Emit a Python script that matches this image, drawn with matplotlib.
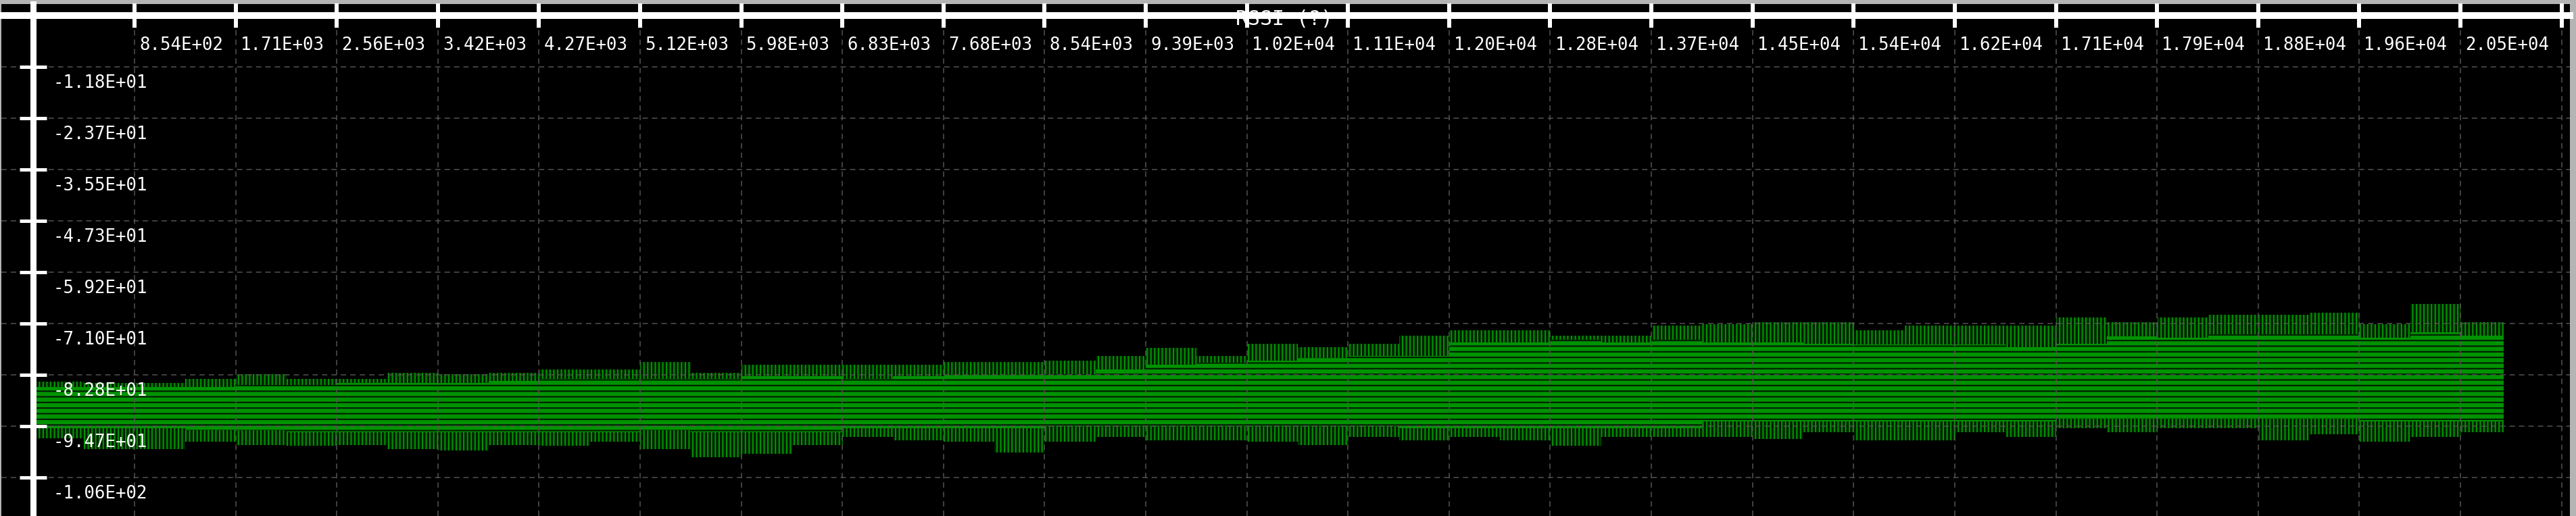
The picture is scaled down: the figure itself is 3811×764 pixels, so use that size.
import numpy as np
import matplotlib
matplotlib.use("Agg")
import matplotlib.pyplot as plt
from matplotlib.transforms import offset_copy

# ---------------- data ----------------
# RSSI sample cloud summarised per half-tick bin of sample index
bin_edges = [0, 427, 854, 1281, 1708, 2135, 2562, 2989, 3416, 3843, 4270, 4697,
             5124, 5551, 5978, 6405, 6832, 7259, 7686, 8113, 8540, 8967, 9394,
             9821, 10248, 10675, 11102, 11529, 11956, 12383, 12810, 13237, 13664,
             14091, 14518, 14945, 15372, 15799, 16226, 16653, 17080, 17507, 17934,
             18361, 18788, 19215, 19642, 20069, 20496, 20856]
# highest sparse samples per bin
rssi_max = [-84.4, -84.7, -84.7, -83.7, -82.6, -83.7, -83.7, -82.4, -82.6, -82.4,
            -81.6, -81.6, -79.8, -82.4, -80.5, -80.5, -80.5, -80.5, -79.8, -79.8,
            -79.5, -78.5, -76.6, -78.5, -75.6, -76.4, -75.6, -73.8, -72.5, -72.5,
            -73.8, -73.8, -71.5, -71.2, -70.7, -70.7, -72.5, -71.5, -71.5, -71.5,
            -69.6, -70.7, -69.6, -68.9, -68.9, -68.5, -71.2, -66.5, -70.7]
# top of the dense band per bin
rssi_dense_hi = [-85.7, -85.7, -85.7, -85.7, -85.2, -85.2, -84.7, -84.7, -84.7, -84.2,
                 -83.7, -83.7, -83.7, -83.7, -83.1, -83.1, -83.7, -83.1, -82.9, -82.9,
                 -82.6, -81.6, -80.5, -80.0, -79.5, -79.0, -78.5, -78.5, -75.4, -75.4,
                 -74.8, -75.4, -74.8, -75.4, -75.4, -75.6, -75.9, -75.9, -75.9, -76.4,
                 -75.6, -74.0, -74.3, -73.5, -73.5, -73.5, -74.3, -73.0, -73.8]
# bottom of the dense band per bin
rssi_dense_lo = [-95.1, -95.1, -95.1, -95.6, -95.6, -96.1, -96.1, -96.1, -96.1, -96.1,
                 -96.1, -96.1, -95.6, -96.1, -96.1, -96.1, -95.1, -95.1, -95.1, -95.1,
                 -94.6, -94.6, -94.6, -94.6, -94.6, -94.6, -94.6, -95.1, -95.1, -95.1,
                 -95.1, -95.1, -95.1, -93.5, -93.5, -93.5, -93.5, -93.5, -93.5, -93.5,
                 -93.0, -93.0, -93.0, -93.0, -93.0, -93.0, -93.5, -93.5, -93.5]
# lowest sparse samples per bin
rssi_min = [-97.4, -100.0, -100.0, -98.2, -99.0, -99.2, -99.0, -100.0, -100.3, -99.0,
            -99.2, -98.2, -100.0, -101.8, -101.0, -99.0, -97.2, -97.9, -98.2, -100.8,
            -98.2, -97.2, -97.9, -97.9, -98.2, -99.0, -97.2, -97.9, -97.2, -97.9,
            -99.2, -97.2, -97.2, -97.2, -97.6, -96.1, -97.9, -97.9, -96.1, -97.2,
            -95.1, -96.1, -95.1, -95.1, -97.9, -96.6, -98.2, -97.2, -96.1]

x_tick_values = [853.8, 1707.6, 2561.4, 3415.2, 4269.0, 5122.8, 5976.6, 6830.4,
                 7684.2, 8538.0, 9391.8, 10245.6, 11099.4, 11953.2, 12807.0,
                 13660.8, 14514.6, 15368.4, 16222.2, 17076.0, 17929.8, 18783.6,
                 19637.4, 20491.2, 21345.0]
x_tick_labels = ["8.54E+02", "1.71E+03", "2.56E+03", "3.42E+03", "4.27E+03",
                 "5.12E+03", "5.98E+03", "6.83E+03", "7.68E+03", "8.54E+03",
                 "9.39E+03", "1.02E+04", "1.11E+04", "1.20E+04", "1.28E+04",
                 "1.37E+04", "1.45E+04", "1.54E+04", "1.62E+04", "1.71E+04",
                 "1.79E+04", "1.88E+04", "1.96E+04", "2.05E+04", ""]
y_tick_values = [-11.833, -23.666, -35.499, -47.332, -59.165, -70.998, -82.831,
                 -94.664, -106.497]
y_tick_labels = ["-1.18E+01", "-2.37E+01", "-3.55E+01", "-4.73E+01", "-5.92E+01",
                 "-7.10E+01", "-8.28E+01", "-9.47E+01", "-1.06E+02"]
title_text = "RSSI (?)"

# ---------------- figure ----------------
W, H, DPI = 3812, 764, 100
PT = 72.0 / DPI  # points per pixel
plt.rcParams["hatch.linewidth"] = 2.2 * PT
fig = plt.figure(figsize=(W / DPI, H / DPI), dpi=DPI, facecolor="#b4b4b4")
ax = fig.add_axes([2 / W, 0, 3800 / W, 758 / H])
ax.set_facecolor("black")
ax.set_xlim(-270.5, 21416)
ax.set_ylim(-115.37, 2.647)

green = "#009300"
edges = np.array(bin_edges, dtype=float)
def ext(a):
    a = np.asarray(a, dtype=float)
    return np.append(a, a[-1])

# sparse outer part of the cloud: vertical green streaks
ax.fill_between(edges, ext(rssi_min), ext(rssi_max), step="post",
                facecolor="#001c00", edgecolor=green, hatch="|||",
                linewidth=0, zorder=1)
# dense core: green with dark horizontal row gaps
ax.fill_between(edges, ext(rssi_dense_lo), ext(rssi_dense_hi), step="post",
                facecolor=green, edgecolor="#002200", hatch="--",
                linewidth=0, zorder=1.1)

# axes lines through zero
for s in ("bottom", "right"):
    ax.spines[s].set_visible(False)
ax.spines["top"].set_position(("data", 0))
ax.spines["left"].set_position(("data", 0))
ax.spines["top"].set_color("white")
ax.spines["left"].set_color("white")
ax.spines["top"].set_linewidth(10 * PT)
ax.spines["left"].set_linewidth(9 * PT)

ax.xaxis.set_ticks_position("top")
ax.yaxis.set_ticks_position("left")
ax.set_xticks(x_tick_values)
ax.set_yticks(y_tick_values)
ax.tick_params(axis="x", direction="inout", length=36 * PT, width=6 * PT,
               color="white", labeltop=False, labelbottom=False)
ax.tick_params(axis="y", direction="inout", length=40 * PT, width=5 * PT,
               color="white", labelleft=False, labelright=False)
ax.set_axisbelow(False)
ax.grid(True, color="#555555", linewidth=1.5 * PT, linestyle=(0, (5.3, 4.0)))

mono = "DejaVu Sans Mono"
fs = 18.5
xt = offset_copy(ax.transData, fig=fig, x=7, y=-51, units="dots")
for v, lab in zip(x_tick_values, x_tick_labels):
    if lab:
        ax.text(v, 0, lab, transform=xt, color="white", fontsize=fs,
                family=mono, ha="left", va="baseline", clip_on=False, zorder=3)
yt = offset_copy(ax.transData, fig=fig, x=29, y=-31, units="dots")
for v, lab in zip(y_tick_values, y_tick_labels):
    ax.text(0, v, lab, transform=yt, color="white", fontsize=fs,
            family=mono, ha="left", va="baseline", clip_on=False, zorder=3)

ax.text(1900 / W, 1 - 37 / H, title_text, transform=fig.transFigure,
        color="white", fontsize=21.5, family=mono, ha="center",
        va="baseline", zorder=2.45, clip_on=False)

fig.savefig("out.png", dpi=DPI, facecolor=fig.get_facecolor())
